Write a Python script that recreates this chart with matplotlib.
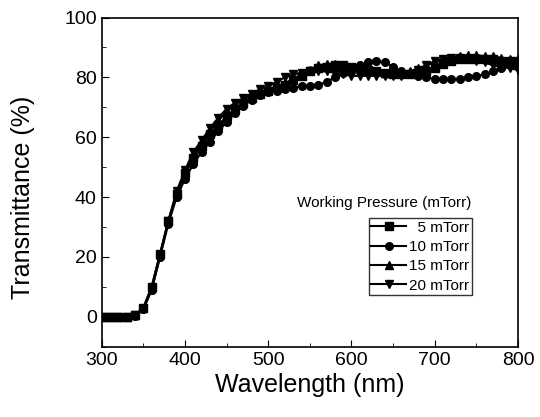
import numpy as np
import matplotlib
matplotlib.use("Agg")
import matplotlib.pyplot as plt
from matplotlib.ticker import MultipleLocator

plt.rcParams['font.family'] = ['Liberation Sans', 'DejaVu Sans']

# wavelength grid (nm), one point every 10 nm
wavelength = np.arange(300, 801, 10)

t_5 = [0, 0, 0, 0, 0.5, 3, 10, 21, 32,
       41, 48, 53, 57, 61, 64, 67, 69.5, 71.5, 73, 74.5, 75.5, 76.5, 77.5, 79, 80.5,
       82, 83, 83.5, 84, 84, 83.5, 83, 82.5, 82, 81.5, 81, 81, 81, 81.5, 82, 83,
       84.5, 85.5, 86, 86, 86, 86, 86, 85.5, 85.5, 85.5]
t_10 = [0, 0, 0, 0, 0.3, 2.5, 9, 20, 31,
        40, 46, 51, 55, 58.5, 62, 65, 68, 70.5, 72.5, 74, 75, 75.5, 76, 76.5, 77,
        77, 77.5, 78.5, 80, 81.5, 83, 84, 85, 85.5, 85, 83.5, 82, 81, 80.5, 80, 79.5,
        79.5, 79.5, 79.5, 80, 80.5, 81, 82, 83, 84, 84]
t_15 = [0, 0, 0, 0, 0.5, 3, 10, 21, 32,
        41, 48, 54, 58, 62, 65.5, 68.5, 71, 72.5, 74, 75, 76, 77, 78, 79.5, 81,
        82.5, 84, 84.5, 84.5, 84, 83.5, 83, 82.5, 82, 81.5, 81.5, 81.5, 82, 83, 84, 85,
        86, 86.5, 87, 87.5, 87.5, 87, 87, 86.5, 86, 86]
t_20 = [0, 0, 0, 0, 0.5, 2.5, 9, 20, 32,
        42, 49, 55, 59, 63, 66.5, 69.5, 71.5, 73, 74.5, 76, 77, 78.5, 80, 81, 81.5,
        82, 82, 82, 81.5, 81, 80.5, 80.5, 80.5, 80.5, 80.5, 80.5, 80.5, 81, 82.5, 84, 85.5,
        86, 86.5, 86.5, 86, 85.5, 85, 84, 83.5, 83, 82.5]

labels = ["  5 mTorr", "10 mTorr", "15 mTorr", "20 mTorr"]
series = [t_5, t_10, t_15, t_20]
markers = ["s", "o", "^", "v"]

fig = plt.figure(figsize=(5.4, 4.17), dpi=100)
ax = fig.add_axes([101.7 / 540, 1 - 346.7 / 417, (518 - 101.7) / 540, (346.7 - 17.5) / 417])

for y, lab, m in zip(series, labels, markers):
    ax.plot(wavelength, y, color="black", lw=1.5, marker=m, ms=5.5, label=lab)

ax.set_xlim(300, 800)
ax.set_ylim(-10, 100)
ax.xaxis.set_major_locator(MultipleLocator(100))
ax.xaxis.set_minor_locator(MultipleLocator(50))
ax.yaxis.set_major_locator(MultipleLocator(20))
ax.yaxis.set_minor_locator(MultipleLocator(10))
ax.tick_params(which="both", direction="in", labelsize=14)
ax.tick_params(which="major", length=5)
ax.tick_params(which="minor", length=3)
for s in ax.spines.values():
    s.set_linewidth(1.2)

ax.set_xlabel("Wavelength (nm)", fontsize=18, labelpad=3)
ax.set_ylabel("Transmittance (%)", fontsize=18)
ax.yaxis.set_label_coords(-0.16, 0.455)

leg = ax.legend(loc="lower right", bbox_to_anchor=((471.7 - 101.7) / 416.3, (346.7 - 295) / 329.2),
                frameon=True, fancybox=False, fontsize=11, handlelength=2.3,
                handletextpad=0.2, borderpad=0.15, labelspacing=0.35, borderaxespad=0)
leg.get_frame().set_edgecolor("black")
leg.get_frame().set_linewidth(1.0)
ax.text((471.7 - 101.7) / 416.3, (346.7 - 203) / 329.2, "Working Pressure (mTorr)",
        transform=ax.transAxes, ha="right", va="center", fontsize=11)

fig.savefig("out.png", dpi=100)
